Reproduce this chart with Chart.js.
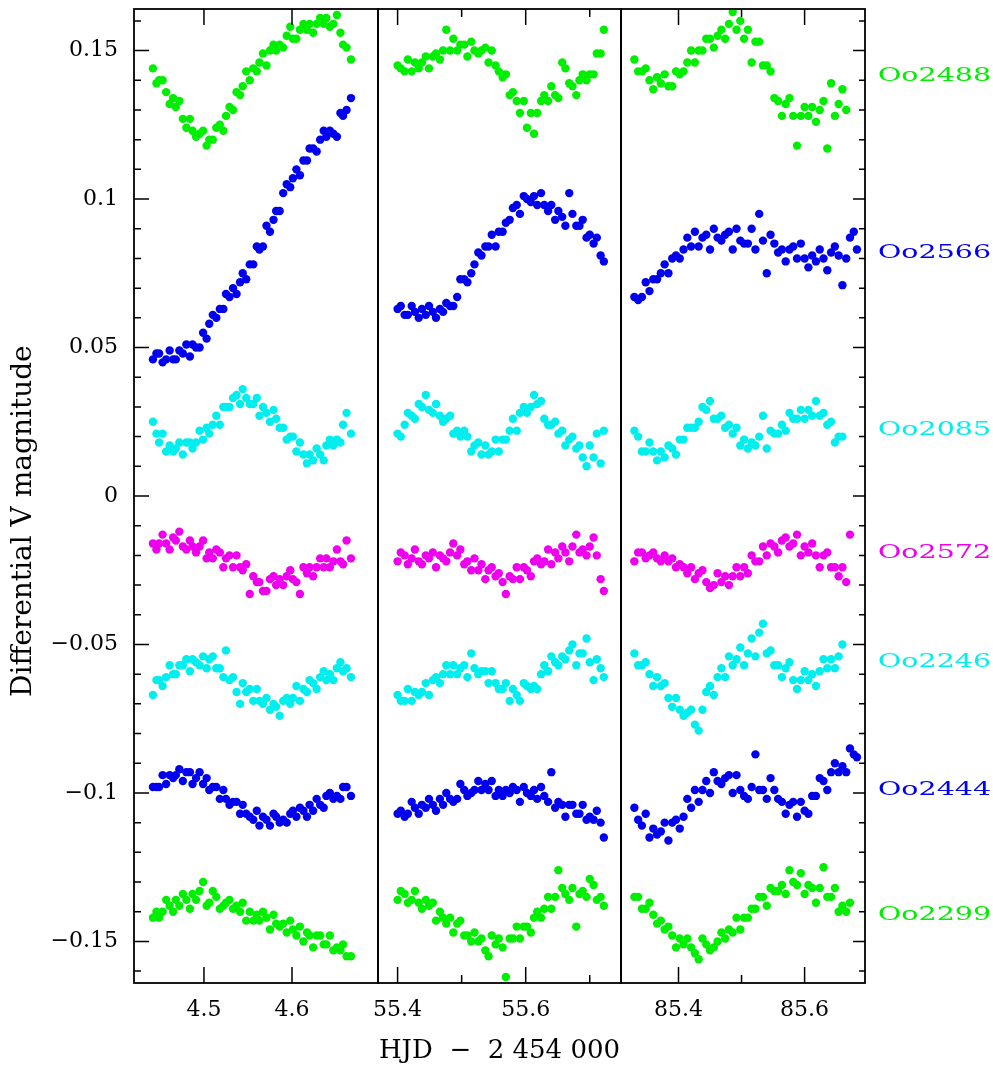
<!DOCTYPE html>
<html><head><meta charset="utf-8">
<script src="https://cdn.jsdelivr.net/npm/chart.js@4.4.0/dist/chart.umd.min.js"></script>
<style>
html,body{margin:0;padding:0;background:#fff;}
#wrap{position:relative;width:993px;height:1066px;overflow:hidden;}
.box{position:absolute;top:-21px;height:1087px;}
</style></head><body>
<div id="wrap">
<div class="box" id="d1" style="left:0;width:408px"><canvas id="c1"></canvas></div>
<div class="box" id="d2" style="left:348px;width:303px"><canvas id="c2"></canvas></div>
<div class="box" id="d3" style="left:591px;width:402px"><canvas id="c3"></canvas></div>
</div>
<script>
// ---------- data (HJD - 2454000, differential V magnitude) ----------
const tP1 = [4.442,4.446,4.449,4.453,4.457,4.461,4.465,4.468,4.472,4.476,4.480,4.484,4.487,4.491,4.495,4.499,4.503,4.506,4.510,4.514,4.518,4.522,4.525,4.529,4.533,4.537,4.541,4.544,4.548,4.552,4.556,4.560,4.563,4.567,4.571,4.575,4.579,4.582,4.586,4.590,4.594,4.598,4.601,4.605,4.609,4.613,4.617,4.620,4.624,4.628,4.632,4.636,4.639,4.643,4.647,4.651,4.655,4.658,4.662,4.667];
const tP2 = [55.400,55.405,55.411,55.416,55.422,55.427,55.433,55.438,55.444,55.449,55.455,55.460,55.466,55.471,55.476,55.482,55.487,55.493,55.498,55.504,55.509,55.515,55.520,55.526,55.531,55.537,55.542,55.547,55.553,55.558,55.564,55.569,55.575,55.580,55.586,55.591,55.597,55.602,55.608,55.613,55.618,55.624,55.629,55.635,55.640,55.646,55.651,55.657,55.662,55.668,55.673,55.679,55.684,55.689,55.695,55.700,55.706,55.711,55.717,55.722];
const tP3 = [85.330,85.336,85.342,85.348,85.354,85.360,85.366,85.372,85.378,85.384,85.390,85.396,85.402,85.408,85.414,85.420,85.426,85.432,85.438,85.444,85.450,85.456,85.462,85.468,85.474,85.480,85.486,85.492,85.498,85.504,85.510,85.516,85.522,85.528,85.534,85.540,85.546,85.552,85.558,85.564,85.570,85.576,85.582,85.588,85.594,85.600,85.606,85.612,85.618,85.624,85.630,85.636,85.642,85.648,85.654,85.660,85.666,85.672,85.678,85.683];

const oo2488_p1 = [0.144,0.139,0.140,0.140,0.136,0.132,0.134,0.131,0.133,0.127, 0.124,0.127,0.123,0.121,0.122,0.123,0.118,0.120,0.120,0.124, 0.125,0.123,0.128,0.131,0.130,0.136,0.135,0.138,0.143,0.140, 0.144,0.143,0.146,0.149,0.145,0.150,0.152,0.150,0.152,0.151, 0.155,0.158,0.154,0.154,0.157,0.159,0.157,0.159,0.156,0.159, 0.161,0.159,0.161,0.158,0.159,0.162,0.156,0.152,0.151,0.147];
const oo2566_p1 = [0.046,0.048,0.048,0.045,0.046,0.049,0.046,0.046,0.049,0.048, 0.051,0.047,0.051,0.050,0.050,0.055,0.053,0.058,0.061,0.060, 0.063,0.063,0.068,0.067,0.070,0.068,0.072,0.075,0.073,0.078, 0.078,0.084,0.083,0.084,0.091,0.089,0.093,0.096,0.096,0.102, 0.105,0.104,0.107,0.110,0.108,0.113,0.113,0.117,0.117,0.116, 0.120,0.123,0.121,0.123,0.122,0.121,0.129,0.128,0.130,0.134];
const oo2085_p1 = [0.025,0.021,0.018,0.021,0.015,0.017,0.015,0.016,0.018,0.014, 0.018,0.018,0.016,0.018,0.022,0.019,0.023,0.021,0.024,0.027, 0.024,0.030,0.030,0.030,0.033,0.034,0.031,0.036,0.033,0.031, 0.031,0.033,0.027,0.030,0.028,0.025,0.029,0.026,0.023,0.023, 0.019,0.020,0.020,0.015,0.018,0.014,0.011,0.014,0.012,0.016, 0.014,0.012,0.017,0.019,0.017,0.019,0.018,0.024,0.028,0.021];
const oo2572_p1 = [-0.016,-0.018,-0.016,-0.013,-0.016,-0.018,-0.014,-0.015,-0.012,-0.017, -0.018,-0.015,-0.017,-0.019,-0.017,-0.015,-0.021,-0.019,-0.021,-0.018, -0.019,-0.024,-0.021,-0.020,-0.024,-0.020,-0.024,-0.025,-0.023,-0.033, -0.027,-0.029,-0.029,-0.032,-0.032,-0.028,-0.027,-0.030,-0.028,-0.030, -0.027,-0.025,-0.028,-0.029,-0.033,-0.024,-0.026,-0.024,-0.027,-0.024, -0.021,-0.024,-0.021,-0.024,-0.022,-0.018,-0.022,-0.023,-0.015,-0.021];
const oo2246_p1 = [-0.067,-0.062,-0.062,-0.064,-0.061,-0.057,-0.060,-0.060,-0.057,-0.057, -0.055,-0.059,-0.055,-0.056,-0.057,-0.054,-0.058,-0.055,-0.054,-0.058, -0.058,-0.061,-0.052,-0.062,-0.061,-0.066,-0.070,-0.063,-0.066,-0.065, -0.069,-0.065,-0.069,-0.070,-0.068,-0.072,-0.070,-0.071,-0.074,-0.069, -0.068,-0.070,-0.068,-0.064,-0.069,-0.065,-0.066,-0.062,-0.063,-0.065, -0.061,-0.059,-0.062,-0.060,-0.062,-0.058,-0.056,-0.059,-0.058,-0.061];
const oo2444_p1 = [-0.098,-0.098,-0.098,-0.094,-0.097,-0.094,-0.095,-0.094,-0.092,-0.096, -0.093,-0.093,-0.097,-0.095,-0.093,-0.097,-0.095,-0.099,-0.098,-0.098, -0.102,-0.099,-0.102,-0.104,-0.103,-0.103,-0.107,-0.104,-0.107,-0.108, -0.109,-0.106,-0.111,-0.108,-0.109,-0.111,-0.107,-0.108,-0.110,-0.109, -0.110,-0.107,-0.106,-0.108,-0.105,-0.106,-0.108,-0.104,-0.106,-0.102, -0.104,-0.105,-0.101,-0.100,-0.102,-0.101,-0.102,-0.098,-0.098,-0.101];
const oo2299_p1 = [-0.142,-0.140,-0.142,-0.140,-0.136,-0.138,-0.140,-0.136,-0.138,-0.134, -0.136,-0.139,-0.134,-0.136,-0.133,-0.130,-0.138,-0.137,-0.133,-0.135, -0.139,-0.138,-0.137,-0.136,-0.139,-0.138,-0.140,-0.137,-0.143,-0.140, -0.143,-0.141,-0.143,-0.140,-0.142,-0.146,-0.141,-0.144,-0.145,-0.144, -0.147,-0.143,-0.146,-0.148,-0.145,-0.150,-0.147,-0.148,-0.152,-0.148, -0.148,-0.151,-0.151,-0.148,-0.153,-0.152,-0.153,-0.151,-0.155,-0.155];

const oo2488_p2 = [0.145,0.144,0.143,0.147,0.143,0.146,0.144,0.146,0.148,0.144, 0.148,0.149,0.147,0.150,0.157,0.150,0.154,0.150,0.152,0.152, 0.148,0.153,0.150,0.149,0.150,0.151,0.146,0.150,0.145,0.143, 0.141,0.142,0.135,0.136,0.133,0.129,0.133,0.124,0.129,0.122, 0.129,0.133,0.135,0.133,0.138,0.135,0.134,0.146,0.144,0.139, 0.138,0.135,0.140,0.142,0.140,0.142,0.142,0.149,0.149,0.157];
const oo2566_p2 = [0.063,0.064,0.061,0.061,0.064,0.062,0.060,0.063,0.061,0.064, 0.062,0.060,0.063,0.062,0.065,0.064,0.064,0.067,0.073,0.073, 0.072,0.075,0.078,0.082,0.081,0.084,0.084,0.088,0.084,0.089, 0.089,0.092,0.093,0.097,0.098,0.095,0.101,0.100,0.099,0.101, 0.098,0.102,0.098,0.096,0.098,0.093,0.096,0.094,0.091,0.102, 0.095,0.091,0.091,0.093,0.087,0.088,0.085,0.087,0.081,0.079];
const oo2085_p2 = [0.021,0.020,0.024,0.028,0.027,0.026,0.031,0.030,0.034,0.029, 0.028,0.031,0.027,0.025,0.026,0.027,0.021,0.022,0.020,0.022, 0.020,0.015,0.017,0.018,0.014,0.017,0.014,0.015,0.019,0.015, 0.019,0.019,0.022,0.026,0.022,0.028,0.030,0.028,0.030,0.034, 0.031,0.032,0.026,0.024,0.024,0.025,0.021,0.022,0.017,0.019, 0.020,0.016,0.017,0.013,0.010,0.017,0.013,0.021,0.011,0.022];
const oo2572_p2 = [-0.022,-0.019,-0.020,-0.023,-0.021,-0.018,-0.022,-0.023,-0.020,-0.021, -0.019,-0.024,-0.020,-0.021,-0.022,-0.019,-0.016,-0.020,-0.018,-0.023, -0.022,-0.025,-0.021,-0.025,-0.023,-0.028,-0.025,-0.024,-0.027,-0.026, -0.029,-0.033,-0.027,-0.028,-0.024,-0.028,-0.024,-0.025,-0.027,-0.022, -0.021,-0.023,-0.022,-0.018,-0.023,-0.019,-0.021,-0.017,-0.019,-0.022, -0.017,-0.013,-0.019,-0.018,-0.020,-0.017,-0.014,-0.020,-0.028,-0.032];
const oo2246_p2 = [-0.067,-0.069,-0.069,-0.065,-0.069,-0.066,-0.067,-0.066,-0.063,-0.067, -0.062,-0.061,-0.063,-0.060,-0.057,-0.060,-0.057,-0.060,-0.058,-0.057, -0.061,-0.053,-0.058,-0.060,-0.059,-0.059,-0.063,-0.059,-0.063,-0.065, -0.065,-0.063,-0.069,-0.065,-0.067,-0.069,-0.063,-0.064,-0.065,-0.064, -0.065,-0.060,-0.057,-0.059,-0.054,-0.056,-0.057,-0.054,-0.055,-0.052, -0.050,-0.057,-0.053,-0.053,-0.048,-0.056,-0.062,-0.055,-0.058,-0.061];
const oo2444_p2 = [-0.107,-0.106,-0.108,-0.107,-0.103,-0.105,-0.107,-0.104,-0.105,-0.102, -0.104,-0.106,-0.102,-0.104,-0.100,-0.102,-0.103,-0.102,-0.097,-0.099, -0.101,-0.100,-0.099,-0.096,-0.099,-0.097,-0.099,-0.096,-0.101,-0.099, -0.101,-0.099,-0.100,-0.098,-0.099,-0.103,-0.098,-0.100,-0.101,-0.099, -0.102,-0.098,-0.101,-0.103,-0.093,-0.105,-0.103,-0.104,-0.108,-0.104, -0.104,-0.107,-0.107,-0.104,-0.109,-0.108,-0.109,-0.106,-0.110,-0.115];
const oo2299_p2 = [-0.136,-0.133,-0.134,-0.137,-0.136,-0.133,-0.137,-0.139,-0.136,-0.138, -0.137,-0.143,-0.140,-0.142,-0.144,-0.142,-0.147,-0.144,-0.143,-0.148, -0.148,-0.150,-0.147,-0.150,-0.149,-0.153,-0.155,-0.148,-0.151,-0.149, -0.152,-0.162,-0.149,-0.149,-0.145,-0.149,-0.145,-0.145,-0.147,-0.142, -0.140,-0.142,-0.139,-0.135,-0.139,-0.135,-0.126,-0.132,-0.134,-0.136, -0.132,-0.145,-0.134,-0.133,-0.135,-0.129,-0.131,-0.136,-0.135,-0.138];

const oo2488_p3 = [0.147,0.143,0.143,0.144,0.140,0.137,0.141,0.139,0.142,0.138, 0.138,0.143,0.142,0.143,0.146,0.150,0.146,0.150,0.150,0.154, 0.154,0.151,0.155,0.157,0.154,0.159,0.163,0.157,0.160,0.154, 0.157,0.146,0.153,0.153,0.145,0.145,0.143,0.134,0.133,0.128, 0.132,0.134,0.128,0.118,0.128,0.131,0.128,0.131,0.126,0.130, 0.133,0.117,0.139,0.128,0.132,0.137,0.130,null,null,null];
const oo2566_p3 = [0.067,0.066,0.067,0.072,0.069,0.073,0.073,0.075,0.078,0.075, 0.080,0.081,0.080,0.083,0.087,0.084,0.089,0.084,0.087,0.088, 0.083,0.090,0.087,0.086,0.088,0.089,0.083,0.090,0.086,0.085, 0.085,0.090,0.083,0.095,0.086,0.075,0.088,0.085,0.082,0.083, 0.079,0.083,0.084,0.080,0.085,0.080,0.077,0.081,0.079,0.083, 0.080,0.076,0.082,0.084,0.081,0.071,0.080,0.087,0.089,0.083];
const oo2085_p3 = [0.022,0.020,0.015,0.015,0.018,0.015,0.012,0.015,0.013,0.017, 0.016,0.014,0.019,0.019,0.023,0.023,0.023,0.025,0.030,0.029, 0.032,0.026,0.026,0.027,0.023,0.024,0.021,0.023,0.017,0.019, 0.016,0.018,0.017,0.020,0.027,0.016,0.022,0.021,0.021,0.024, 0.022,0.028,0.026,0.026,0.029,0.026,0.029,0.027,0.032,0.027, 0.028,0.024,0.025,0.018,0.020,0.020,null,null,null,null];
const oo2572_p3 = [-0.022,-0.019,-0.019,-0.021,-0.020,-0.019,-0.021,-0.022,-0.020,-0.022, -0.021,-0.024,-0.023,-0.024,-0.026,-0.024,-0.028,-0.026,-0.025,-0.029, -0.031,-0.030,-0.026,-0.029,-0.027,-0.030,-0.027,-0.024,-0.027,-0.024, -0.026,-0.020,-0.022,-0.022,-0.017,-0.020,-0.016,-0.017,-0.019,-0.015, -0.014,-0.017,-0.016,-0.013,-0.020,-0.017,-0.019,-0.016,-0.020,-0.024, -0.020,-0.019,-0.024,-0.024,-0.027,-0.024,-0.029,-0.013,null,null];
const oo2246_p3 = [-0.053,-0.057,-0.057,-0.056,-0.060,-0.064,-0.061,-0.064,-0.063,-0.068, -0.071,-0.068,-0.072,-0.074,-0.073,-0.072,-0.077,-0.079,-0.072,-0.066, -0.064,-0.067,-0.061,-0.058,-0.061,-0.054,-0.057,-0.055,-0.051,-0.057, -0.053,-0.048,-0.054,-0.046,-0.043,-0.053,-0.052,-0.057,-0.057,-0.061, -0.058,-0.056,-0.062,-0.065,-0.062,-0.059,-0.062,-0.060,-0.064,-0.059, -0.055,-0.058,-0.055,-0.058,-0.054,-0.050,null,null,null,null];
const oo2444_p3 = [-0.105,-0.109,-0.111,-0.107,-0.115,-0.112,-0.114,-0.113,-0.110,-0.116, -0.110,-0.109,-0.112,-0.108,-0.102,-0.105,-0.099,-0.103,-0.099,-0.096, -0.100,-0.093,-0.096,-0.097,-0.095,-0.094,-0.100,-0.094,-0.099,-0.101, -0.102,-0.098,-0.087,-0.099,-0.099,-0.102,-0.095,-0.099,-0.102,-0.103, -0.107,-0.104,-0.103,-0.108,-0.103,-0.106,-0.107,-0.101,-0.101,-0.095, -0.096,-0.099,-0.093,-0.090,-0.093,-0.091,-0.093,-0.085,-0.087,-0.088];
const oo2299_p3 = [-0.135,-0.135,-0.139,-0.139,-0.137,-0.141,-0.144,-0.143,-0.146,-0.145, -0.148,-0.152,-0.149,-0.151,-0.149,-0.152,-0.154,-0.156,-0.149,-0.151, -0.153,-0.152,-0.150,-0.147,-0.149,-0.146,-0.147,-0.142,-0.146,-0.142, -0.142,-0.139,-0.139,-0.135,-0.135,-0.138,-0.132,-0.133,-0.133,-0.131, -0.134,-0.126,-0.130,-0.131,-0.127,-0.134,-0.131,-0.132,-0.137,-0.132, -0.125,-0.135,-0.135,-0.132,-0.140,-0.138,-0.140,-0.137,null,null];

const starNames = ['Oo2488','Oo2566','Oo2085','Oo2572','Oo2246','Oo2444','Oo2299'];
const starColors = ['#00ee00','#0000ee','#00eeee','#ee00ee','#00eeee','#0000ee','#00ee00'];
const starLabelLevels = [0.1415, 0.0819, 0.0223, -0.0191, -0.0558, -0.0989, -0.141];

const yRange = [-0.164, 0.164];
const yTickLabels = [-0.15, -0.1, -0.05, 0, 0.05, 0.1, 0.15];
const yMinorStep = 0.01;
const xRanges = [[4.4205, 4.6977], [55.3694, 55.7488], [85.3088, 85.6958]];
const xTickLabels = [[4.5, 4.6], [55.4, 55.6], [85.4, 85.6]];
const xMinorTicks = [[], [55.5, 55.7], [85.5]];
const yTitle = 'Differential V magnitude';
const xTitle = 'HJD  \u2212  2 454 000';

// ---------- chart construction ----------
const panelTimes = [tP1, tP2, tP3];
const panelSeries = [
  [oo2488_p1, oo2566_p1, oo2085_p1, oo2572_p1, oo2246_p1, oo2444_p1, oo2299_p1],
  [oo2488_p2, oo2566_p2, oo2085_p2, oo2572_p2, oo2246_p2, oo2444_p2, oo2299_p2],
  [oo2488_p3, oo2566_p3, oo2085_p3, oo2572_p3, oo2246_p3, oo2444_p3, oo2299_p3]
];
const FAMILY = '"DejaVu Serif", serif';
const INK = '#000000';
const BOX_TOP = -21; // page offset of each canvas box (keeps plot top at y=9)

function points(times, mags) {
  return times.map((t, i) => ({x: t, y: mags[i]})).filter(p => p.y !== null);
}
function fmtY(v) {
  if (v === 0) return '0';
  return (v < 0 ? '\u2212' : '') + String(Math.abs(v));
}

function decorPlugin(panel) {
  return {
    id: 'decor' + panel,
    afterDraw(chart) {
      const ctx = chart.ctx, a = chart.chartArea, xs = chart.scales.x, ys = chart.scales.y;
      ctx.save();
      ctx.strokeStyle = INK;
      ctx.lineWidth = 1.5;
      ctx.beginPath();
      const xt = (vals, len) => vals.forEach(v => {
        const px = xs.getPixelForValue(v);
        ctx.moveTo(px, a.bottom); ctx.lineTo(px, a.bottom - len);
        ctx.moveTo(px, a.top); ctx.lineTo(px, a.top + len);
      });
      xt(xTickLabels[panel], 16);
      xt(xMinorTicks[panel], 8);
      const nMin = Math.ceil(yRange[0] / yMinorStep - 1e-9), nMax = Math.floor(yRange[1] / yMinorStep + 1e-9);
      for (let k = nMin; k <= nMax; k++) {
        const v = k * yMinorStep;
        const major = yTickLabels.some(t => Math.abs(t - v) < 1e-9);
        const py = ys.getPixelForValue(v);
        if (panel === 0) { ctx.moveTo(a.left, py); ctx.lineTo(a.left + (major ? 15 : 7), py); }
        if (panel === 2) { ctx.moveTo(a.right, py); ctx.lineTo(a.right - (major ? 12 : 6), py); }
      }
      ctx.stroke();
      ctx.lineWidth = 1.8;
      ctx.strokeRect(a.left, a.top, a.right - a.left, a.bottom - a.top);

      if (panel === 0) {
        ctx.save();
        ctx.translate(24, 697 - BOX_TOP);
        ctx.rotate(-Math.PI / 2);
        ctx.font = '28px ' + FAMILY;
        ctx.fillStyle = INK;
        ctx.textAlign = 'left';
        ctx.textBaseline = 'middle';
        ctx.fillText(yTitle, 0, 0);
        ctx.restore();
      }
      if (panel === 1) {
        ctx.save();
        ctx.font = '26px ' + FAMILY;
        ctx.fillStyle = INK;
        ctx.textAlign = 'center';
        ctx.textBaseline = 'middle';
        ctx.fillText(xTitle, (a.left + a.right) / 2, 1051 - BOX_TOP);
        ctx.restore();
      }
      if (panel === 2) {
        starNames.forEach((n, i) => {
          const py = ys.getPixelForValue(starLabelLevels[i]);
          ctx.save();
          ctx.translate(a.right + 13, py);
          ctx.scale(1.5, 1);
          ctx.font = '19px ' + FAMILY;
          ctx.fillStyle = starColors[i];
          ctx.textAlign = 'left';
          ctx.textBaseline = 'middle';
          ctx.fillText(n, 0, 0);
          ctx.restore();
        });
      }
      ctx.restore();
    }
  };
}

function makeChart(canvasId, panel, padding) {
  const datasets = panelSeries[panel].map((m, s) => ({
    label: starNames[s],
    data: points(panelTimes[panel], m),
    backgroundColor: starColors[s],
    borderColor: starColors[s],
    borderWidth: 0,
    pointRadius: 4.2,
    pointHoverRadius: 4.2,
    showLine: false
  }));
  return new Chart(document.getElementById(canvasId), {
    type: 'scatter',
    data: {datasets},
    options: {
      responsive: true,
      maintainAspectRatio: false,
      animation: false,
      events: [],
      layout: {padding},
      plugins: {legend: {display: false}, tooltip: {enabled: false}},
      scales: {
        x: {
          type: 'linear',
          min: xRanges[panel][0],
          max: xRanges[panel][1],
          grid: {display: false, drawTicks: false},
          border: {display: false},
          ticks: {
            color: INK, font: {family: FAMILY, size: 22}, padding: 14,
            maxRotation: 0, minRotation: 0, autoSkip: false,
            callback: v => String(v)
          },
          afterBuildTicks: s => { s.ticks = xTickLabels[panel].map(v => ({value: v})); },
          afterFit: s => { s.height = 83; }
        },
        y: {
          type: 'linear',
          display: panel === 0,
          min: yRange[0],
          max: yRange[1],
          grid: {display: false, drawTicks: false},
          border: {display: false},
          ticks: {color: INK, font: {family: FAMILY, size: 22}, padding: 16, autoSkip: false, callback: v => fmtY(v)},
          afterBuildTicks: s => { s.ticks = yTickLabels.map(v => ({value: v})); },
          afterFit: s => { s.width = panel === 0 ? 134 : 0; }
        }
      }
    },
    plugins: [decorPlugin(panel)]
  });
}

const TOP_PAD = 9 - BOX_TOP;
makeChart('c1', 0, {left: 0, right: 30, top: TOP_PAD, bottom: 0});
makeChart('c2', 1, {left: 30, right: 30, top: TOP_PAD, bottom: 0});
makeChart('c3', 2, {left: 30, right: 128, top: TOP_PAD, bottom: 0});
</script>
</body></html>
